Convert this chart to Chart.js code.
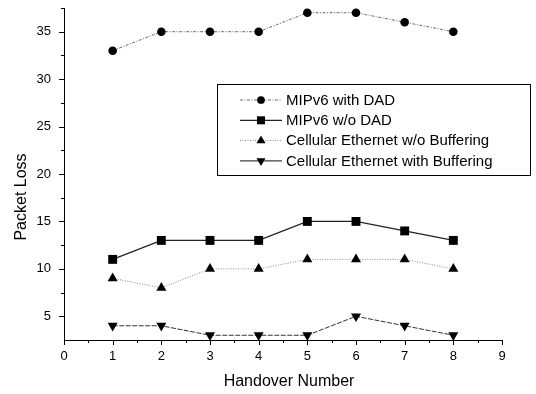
<!DOCTYPE html>
<html>
<head>
<meta charset="utf-8">
<script src="https://cdn.jsdelivr.net/npm/chart.js@4/dist/chart.umd.min.js"></script>
<style>
  html, body { margin: 0; padding: 0; background: #ffffff; }
  #wrap { width: 536px; height: 394px; position: relative; }
</style>
</head>
<body>
<div id="wrap"><canvas id="chart" width="536" height="394"></canvas></div>
<script>
// Handover index on the x axis
const handovers = [1, 2, 3, 4, 5, 6, 7, 8];

// Packet loss per handover for each scheme
const mipv6WithDad = [33, 35, 35, 35, 37, 37, 36, 35];
const mipv6WithoutDad = [11, 13, 13, 13, 15, 15, 14, 13];
const cellularNoBuffering = [9, 8, 10, 10, 11, 11, 11, 10];
const cellularBuffering = [4, 4, 3, 3, 3, 5, 4, 3];

const seriesNames = [
  'MIPv6 with DAD',
  'MIPv6 w/o DAD',
  'Cellular Ethernet w/o Buffering',
  'Cellular Ethernet with Buffering'
];

// Axis ticks
const xTickValues = [0, 1, 2, 3, 4, 5, 6, 7, 8, 9];
const yTickValues = [5, 10, 15, 20, 25, 30, 35];

const FONT = "'Liberation Sans', Arial, Helvetica, sans-serif";

function points(values) {
  return values.map((v, i) => ({ x: handovers[i], y: v }));
}

const datasets = [
  {
    label: seriesNames[0],
    data: points(mipv6WithDad),
    borderColor: '#6a6a6a',
    borderWidth: 1,
    borderDash: [3, 1.5, 1, 1.5],
    pointStyle: 'circle',
    pointRadius: 4.3
  },
  {
    label: seriesNames[1],
    data: points(mipv6WithoutDad),
    borderColor: '#222',
    borderWidth: 1.2,
    borderDash: [],
    pointStyle: 'rect',
    pointRadius: 6.3
  },
  {
    label: seriesNames[2],
    data: points(cellularNoBuffering),
    borderColor: '#8a8a8a',
    borderWidth: 1,
    borderDash: [1, 1.5],
    pointStyle: 'triangle',
    pointRadius: 5.8
  },
  {
    label: seriesNames[3],
    data: points(cellularBuffering),
    borderColor: '#333',
    borderWidth: 1,
    borderDash: [5, 1.5],
    pointStyle: 'triangle',
    pointRotation: 180,
    pointRadius: 5.8
  }
].map(d => Object.assign({
  fill: false,
  tension: 0,
  clip: false,
  pointBackgroundColor: '#000',
  pointBorderColor: '#000',
  pointBorderWidth: 0
}, d));

// Minor/major tick marks, axis titles and the boxed legend
const decorations = {
  id: 'decorations',
  afterDraw(chart) {
    const ctx = chart.ctx;
    const xs = chart.scales.x;
    const ys = chart.scales.y;
    const area = chart.chartArea;
    ctx.save();
    ctx.strokeStyle = '#000';
    ctx.lineWidth = 1;
    ctx.beginPath();
    // x ticks: major at integers, minor at halves, pointing down
    for (let v = xs.min; v <= xs.max + 1e-9; v += 0.5) {
      const px = Math.round(xs.getPixelForValue(v)) + 0.5;
      const len = Number.isInteger(v) ? 5 : 3;
      ctx.moveTo(px, area.bottom);
      ctx.lineTo(px, area.bottom + len);
    }
    // y ticks: major every 5, minor in between, pointing left
    for (let v = ys.min + 2.5; v <= ys.max + 1e-9; v += 2.5) {
      const py = Math.round(ys.getPixelForValue(v)) + 0.5;
      const len = (v % 5 === 0) ? 5 : 3;
      ctx.moveTo(area.left, py);
      ctx.lineTo(area.left - len, py);
    }
    ctx.stroke();

    // axis titles
    ctx.fillStyle = '#000';
    ctx.font = '16px ' + FONT;
    ctx.textAlign = 'center';
    ctx.textBaseline = 'middle';
    ctx.fillText('Handover Number', 289, 382);
    ctx.save();
    ctx.translate(22, 197);
    ctx.rotate(-Math.PI / 2);
    ctx.fillText('Packet Loss', 0, 0);
    ctx.restore();

    // legend
    const box = { x: 217.5, y: 84.5, w: 313, h: 91 };
    ctx.fillStyle = '#fff';
    ctx.fillRect(box.x, box.y, box.w, box.h);
    ctx.strokeStyle = '#000';
    ctx.lineWidth = 1;
    ctx.strokeRect(box.x, box.y, box.w, box.h);
    ctx.font = '15px ' + FONT;
    ctx.textAlign = 'left';
    ctx.textBaseline = 'middle';
    chart.data.datasets.forEach((ds, i) => {
      const y = 100 + i * 20.3;
      ctx.save();
      ctx.strokeStyle = i === 3 ? '#111' : ds.borderColor;
      ctx.lineWidth = ds.borderWidth;
      ctx.setLineDash(i === 3 ? [] : ds.borderDash);
      ctx.beginPath();
      ctx.moveTo(240, y);
      ctx.lineTo(282, y);
      ctx.stroke();
      ctx.restore();
      ctx.fillStyle = '#000';
      Chart.helpers.drawPoint(ctx, {
        pointStyle: ds.pointStyle,
        rotation: ds.pointRotation || 0,
        radius: ds.pointRadius * 0.9,
        borderWidth: 0
      }, 261, y);
      ctx.fillStyle = '#000';
      ctx.fillText(ds.label, 286, y + 0.5);
    });
    ctx.restore();
  }
};

new Chart(document.getElementById('chart'), {
  type: 'line',
  data: { datasets },
  plugins: [decorations],
  options: {
    responsive: false,
    animation: false,
    events: [],
    layout: { padding: { left: 0, top: 8, right: 34, bottom: 0 } },
    plugins: { legend: { display: false }, tooltip: { enabled: false } },
    scales: {
      x: {
        type: 'linear',
        min: 0,
        max: 9,
        afterBuildTicks: s => { s.ticks = xTickValues.map(v => ({ value: v })); },
        afterFit: s => { s.height = 54; s.paddingLeft = 0; s.paddingRight = 0; },
        grid: { display: false, drawTicks: false },
        border: { display: true, color: '#000', width: 1 },
        ticks: { color: '#000', padding: 9, font: { size: 13, family: FONT }, maxRotation: 0 }
      },
      y: {
        type: 'linear',
        min: 2.5,
        max: 37.5,
        afterBuildTicks: s => { s.ticks = yTickValues.map(v => ({ value: v })); },
        afterFit: s => { s.width = 64; s.paddingTop = 0; s.paddingBottom = 0; },
        grid: { display: false, drawTicks: false },
        border: { display: true, color: '#000', width: 1 },
        ticks: { color: '#000', padding: 13, font: { size: 13, family: FONT } }
      }
    }
  }
});
</script>
</body>
</html>
